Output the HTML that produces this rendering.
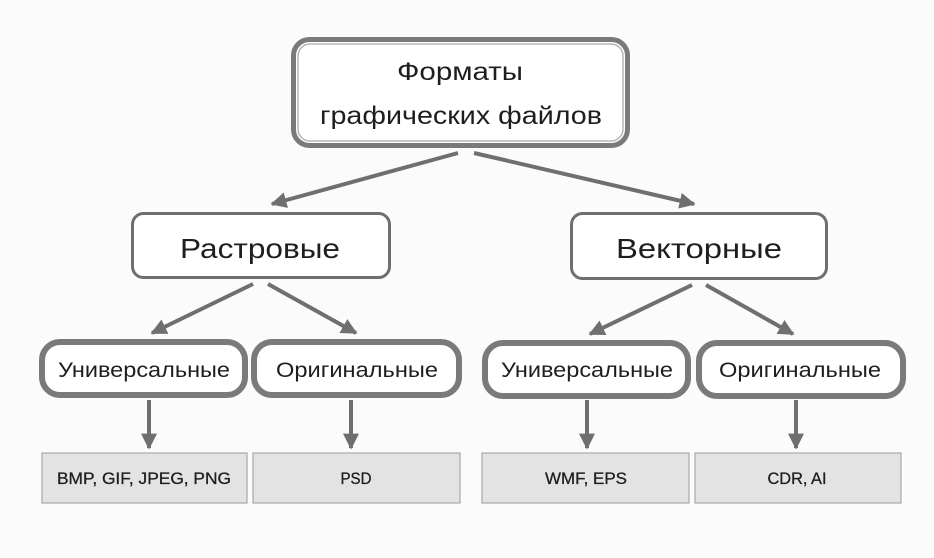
<!DOCTYPE html>
<html><head><meta charset="utf-8"><style>
html,body{margin:0;padding:0;background:#fbfbfb;}
svg{display:block;}
text{font-family:"Liberation Sans","DejaVu Sans",sans-serif;fill:#1e1e1e;}
</style></head><body>
<svg width="934" height="558" viewBox="0 0 934 558" xmlns="http://www.w3.org/2000/svg">
<defs>
<marker id="a" viewBox="0 0 10 10" refX="9" refY="5" markerWidth="4" markerHeight="4" orient="auto" markerUnits="strokeWidth">
<path d="M0,0 L10,5 L0,10 z" fill="#6f6f6f"/></marker>
</defs>
<rect width="934" height="558" fill="#fbfbfb"/>
<!-- top box -->
<rect x="293.5" y="39.5" width="334" height="106" rx="16" fill="#fff" stroke="#7a7a7a" stroke-width="5"/>
<rect x="298" y="44" width="325" height="97" rx="12" fill="#fff" stroke="#b5b5b5" stroke-width="1.5"/>
<text x="460" y="80" font-size="25" text-anchor="middle" textLength="126" lengthAdjust="spacingAndGlyphs">Форматы</text>
<text x="461" y="124" font-size="25" text-anchor="middle" textLength="282" lengthAdjust="spacingAndGlyphs">графических файлов</text>
<!-- level 2 -->
<rect x="132.5" y="213.5" width="257" height="64" rx="11" fill="#fff" stroke="#6f6f6f" stroke-width="3"/>
<text x="260" y="258" font-size="28" text-anchor="middle" textLength="160" lengthAdjust="spacingAndGlyphs">Растровые</text>
<rect x="571.5" y="213.5" width="255" height="65" rx="11" fill="#fff" stroke="#6f6f6f" stroke-width="3"/>
<text x="699" y="258" font-size="28" text-anchor="middle" textLength="166" lengthAdjust="spacingAndGlyphs">Векторные</text>
<!-- arrows -->
<g stroke="#6f6f6f" stroke-width="4" fill="none" marker-end="url(#a)">
<line x1="458" y1="153" x2="272" y2="204"/>
<line x1="474" y1="153" x2="694" y2="204"/>
<line x1="253" y1="284" x2="152" y2="333"/>
<line x1="268" y1="284" x2="356" y2="333"/>
<line x1="692" y1="285" x2="590" y2="334"/>
<line x1="706" y1="285" x2="793" y2="334"/>
<line x1="149" y1="400" x2="149" y2="448"/>
<line x1="351" y1="400" x2="351" y2="448"/>
<line x1="587" y1="400" x2="587" y2="448"/>
<line x1="796" y1="400" x2="796" y2="448"/>
</g>
<!-- level 3 -->
<g fill="#fff" stroke="#7a7a7a" stroke-width="6">
<rect x="42" y="342" width="203" height="53" rx="18"/>
<rect x="254" y="342" width="205" height="53" rx="18"/>
<rect x="485" y="343" width="203" height="53" rx="18"/>
<rect x="699" y="343" width="204" height="53" rx="18"/>
</g>
<g font-size="21" text-anchor="middle">
<text x="144" y="377" textLength="172" lengthAdjust="spacingAndGlyphs">Универсальные</text>
<text x="357" y="377" textLength="162" lengthAdjust="spacingAndGlyphs">Оригинальные</text>
<text x="587" y="377" textLength="172" lengthAdjust="spacingAndGlyphs">Универсальные</text>
<text x="800" y="377" textLength="162" lengthAdjust="spacingAndGlyphs">Оригинальные</text>
</g>
<!-- bottom -->
<g fill="#e3e3e3" stroke="#a8a8a8" stroke-width="1.2">
<rect x="42" y="453" width="205" height="50"/>
<rect x="253" y="453" width="207" height="50"/>
<rect x="482" y="453" width="207" height="50"/>
<rect x="695" y="453" width="206" height="50"/>
</g>
<g font-size="17" text-anchor="middle" style="stroke:#1e1e1e;stroke-width:0.3">
<text x="144" y="484" textLength="174" lengthAdjust="spacingAndGlyphs">BMP, GIF, JPEG, PNG</text>
<text x="356" y="484" textLength="31" lengthAdjust="spacingAndGlyphs">PSD</text>
<text x="586" y="484" textLength="82" lengthAdjust="spacingAndGlyphs">WMF, EPS</text>
<text x="797" y="484" textLength="59" lengthAdjust="spacingAndGlyphs">CDR, AI</text>
</g>
</svg>
</body></html>
